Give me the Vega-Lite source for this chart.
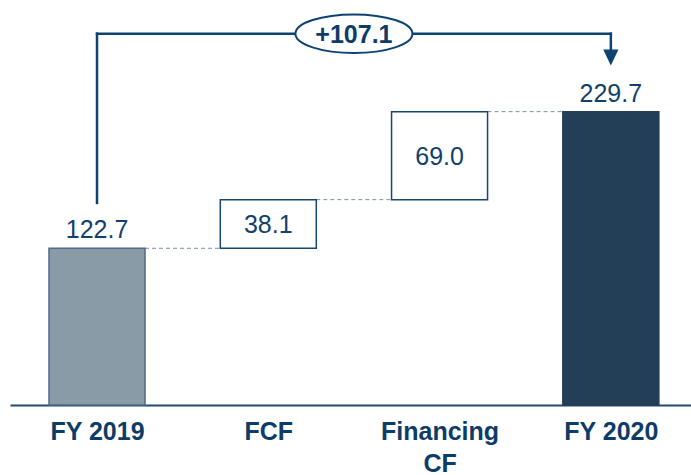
{
  "$schema": "https://vega.github.io/schema/vega-lite/v6.json",
  "width": 681,
  "height": 405,
  "autosize": {"type": "none"},
  "padding": {"left": 10, "top": 0, "right": 0, "bottom": 70},
  "background": "white",
  "config": {
    "view": {"stroke": null},
    "font": "Liberation Sans",
    "axisX": {
      "domainColor": "#1f4a73",
      "domainWidth": 2,
      "ticks": false,
      "grid": false,
      "labelFont": "Liberation Sans",
      "labelFontSize": 25,
      "labelFontWeight": "bold",
      "labelColor": "#0e3c68",
      "labelPadding": 14,
      "labelLineHeight": 32,
      "labelFlush": false,
      "labelOverlap": false,
      "title": null
    }
  },
  "datasets": {
    "steps": [
      {"i": 0, "cat": "FY 2019", "kind": "total19", "start": 0, "end": 122.7, "value": "122.7"},
      {"i": 1, "cat": "FCF", "kind": "delta", "start": 122.7, "end": 160.8, "value": "38.1"},
      {"i": 2, "cat": "Financing CF", "kind": "delta", "start": 160.8, "end": 229.7, "value": "69.0"},
      {"i": 3, "cat": "FY 2020", "kind": "total20", "start": 0, "end": 229.7, "value": "229.7"}
    ],
    "links": [
      {"from": 0, "to": 1, "level": 122.7},
      {"from": 1, "to": 2, "level": 160.8},
      {"from": 2, "to": 3, "level": 229.7}
    ],
    "bracket": [
      {"x": 0, "y": 158.2, "x2": 0, "y2": 290.7},
      {"x": 0, "y": 290.7, "x2": 3, "y2": 290.7},
      {"x": 3, "y": 290.7, "x2": 3, "y2": 278}
    ],
    "change": [{"pos": 1.5, "level": 290.7, "label": "+107.1"}],
    "arrow": [{"pos": 3, "level": 272}]
  },
  "layer": [
    {
      "data": {"name": "links"},
      "mark": {"type": "rule", "strokeDash": [4, 3], "color": "#7b91aa", "strokeWidth": 1, "xOffset": 48, "x2Offset": -48},
      "encoding": {
        "x": {"field": "from", "type": "quantitative", "scale": {"domain": [-0.508, 3.468], "nice": false, "zero": false, "padding": 0}, "title": null},
        "x2": {"field": "to"},
        "y": {"field": "level", "type": "quantitative", "scale": {"domain": [0, 317.1], "nice": false, "zero": true, "padding": 0}, "axis": null}
      }
    },
    {
      "data": {"name": "steps"},
      "mark": {"type": "bar", "width": 96, "strokeWidth": 1.5},
      "encoding": {
        "x": {"field": "i", "type": "quantitative", "title": null,
          "axis": {"values": [0, 1, 2, 3], "labelExpr": "datum.value == 0 ? 'FY 2019' : datum.value == 1 ? 'FCF' : datum.value == 2 ? ['Financing', 'CF'] : 'FY 2020'"}},
        "y": {"field": "start", "type": "quantitative", "axis": null},
        "y2": {"field": "end"},
        "fill": {"field": "kind", "type": "nominal", "legend": null,
          "scale": {"domain": ["total19", "delta", "total20"], "range": ["#8a9ba8", "#ffffff", "#233f57"]}},
        "stroke": {"field": "kind", "type": "nominal", "legend": null,
          "scale": {"domain": ["total19", "delta", "total20"], "range": ["#51698a", "#17466f", "#233f57"]}}
      }
    },
    {
      "data": {"name": "bracket"},
      "mark": {"type": "rule", "color": "#0d4373", "strokeWidth": 2.5, "strokeCap": "square"},
      "encoding": {
        "x": {"field": "x", "type": "quantitative", "title": null},
        "x2": {"field": "x2"},
        "y": {"field": "y", "type": "quantitative", "axis": null},
        "y2": {"field": "y2"}
      }
    },
    {
      "data": {"name": "arrow"},
      "mark": {"type": "point", "shape": "M-0.95,-1L0.95,-1L0,1Z", "size": 256, "filled": true, "color": "#0d4373", "opacity": 1},
      "encoding": {
        "x": {"field": "pos", "type": "quantitative", "title": null},
        "y": {"field": "level", "type": "quantitative", "axis": null}
      }
    },
    {
      "data": {"name": "change"},
      "mark": {"type": "point", "shape": "M-1,0A1,0.33,0,1,1,1,0A1,0.33,0,1,1,-1,0Z", "size": 13689, "filled": false, "fill": "#ffffff", "fillOpacity": 1, "stroke": "#0d4373", "strokeWidth": 2, "opacity": 1},
      "encoding": {
        "x": {"field": "pos", "type": "quantitative", "title": null},
        "y": {"field": "level", "type": "quantitative", "axis": null}
      }
    },
    {
      "data": {"name": "change"},
      "mark": {"type": "text", "font": "Liberation Sans", "fontSize": 25, "fontWeight": "bold", "color": "#0e3c68", "baseline": "middle", "align": "center", "dy": 1},
      "encoding": {
        "x": {"field": "pos", "type": "quantitative", "title": null},
        "y": {"field": "level", "type": "quantitative", "axis": null},
        "text": {"field": "label"}
      }
    },
    {
      "data": {"name": "steps"},
      "transform": [{"filter": "datum.kind != 'delta'"}],
      "mark": {"type": "text", "font": "Liberation Sans", "fontSize": 25, "color": "#123f6b", "baseline": "alphabetic", "align": "center", "dy": -10},
      "encoding": {
        "x": {"field": "i", "type": "quantitative", "title": null},
        "y": {"field": "end", "type": "quantitative", "axis": null},
        "text": {"field": "value"}
      }
    },
    {
      "data": {"name": "steps"},
      "transform": [
        {"filter": "datum.kind == 'delta'"},
        {"fold": ["start", "end"], "as": ["edge", "amount"]}
      ],
      "mark": {"type": "text", "font": "Liberation Sans", "fontSize": 25, "color": "#123f6b", "baseline": "middle", "align": "center", "dy": 1},
      "encoding": {
        "x": {"field": "i", "type": "quantitative", "title": null},
        "y": {"field": "amount", "aggregate": "mean", "type": "quantitative", "axis": null},
        "text": {"field": "value"}
      }
    }
  ]
}
